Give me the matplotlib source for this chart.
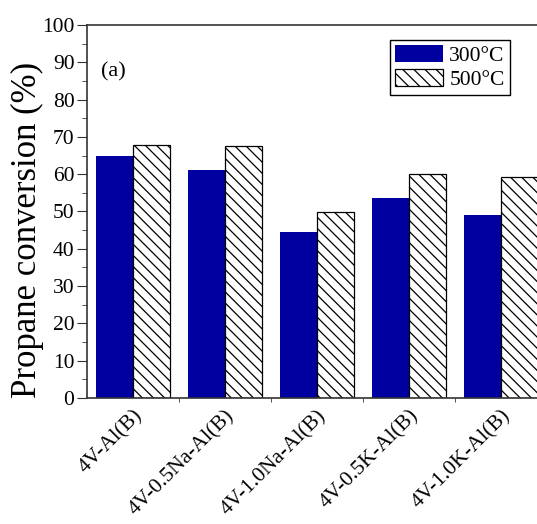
import matplotlib
matplotlib.use("Agg")
import matplotlib.pyplot as plt
import matplotlib.transforms as mtransforms
import numpy as np
from matplotlib.ticker import FixedLocator, MultipleLocator

plt.rcParams['font.family'] = ['Liberation Serif', 'DejaVu Serif']
plt.rcParams['hatch.linewidth'] = 0.9

categories = ["4V-Al(B)", "4V-0.5Na-Al(B)", "4V-1.0Na-Al(B)", "4V-0.5K-Al(B)", "4V-1.0K-Al(B)"]
conv_300 = [64.9, 61.1, 44.6, 53.6, 49.1]
conv_500 = [67.9, 67.5, 49.9, 60.0, 59.2]
series_labels = ["300°C", "500°C"]

fig = plt.figure(figsize=(5.37, 5.24), dpi=100)
ax = fig.add_axes([87/537, (524-398)/524, 460/537, 373/524])

x = np.arange(len(categories))
w = 0.4
ax.bar(x - w/2, conv_300, w, color='#0000A0', edgecolor='#0000A0', linewidth=0, label=series_labels[0])
ax.bar(x + w/2, conv_500, w, color='white', edgecolor='black', linewidth=0.9,
       hatch='\\\\\\', label=series_labels[1])

ax.set_xlim(-0.5, 4.5)
ax.set_ylim(0, 100)
ax.yaxis.set_major_locator(MultipleLocator(10))
ax.yaxis.set_minor_locator(MultipleLocator(5))
ax.xaxis.set_major_locator(FixedLocator(x))
ax.xaxis.set_minor_locator(FixedLocator(x[:-1] + 0.5))
ax.set_xticklabels(categories, rotation=45, ha='right', rotation_mode='anchor', fontsize=15.5)
shift = mtransforms.ScaledTranslation(9/100, 0, fig.dpi_scale_trans)
for lab in ax.get_xticklabels():
    lab.set_transform(lab.get_transform() + shift)
ax.tick_params(axis='x', which='major', length=0, pad=6)
ax.tick_params(axis='x', which='minor', length=3, direction='out', color='#333333')
ax.tick_params(axis='y', which='major', length=7, direction='out', labelsize=15.5, color='#333333', pad=2)
ax.tick_params(axis='y', which='minor', length=3.5, direction='out', color='#333333')
for s in ax.spines.values():
    s.set_color('#333333')
    s.set_linewidth(1.2)

ax.set_ylabel("Propane conversion (%)", fontsize=25)
ax.yaxis.set_label_coords((44-87)/460, (398-230)/373)

ax.text(0.03, 0.875, "(a)", transform=ax.transAxes, fontsize=16, va='center', ha='left')

leg = ax.legend(loc='upper left', bbox_to_anchor=((390-87)/460, (398-40)/373), fontsize=15.5,
                frameon=True, fancybox=False, edgecolor='black', framealpha=1,
                handlelength=2.2, handleheight=0.8, borderpad=0.25, labelspacing=0.15,
                handletextpad=0.3, borderaxespad=0)
leg.get_frame().set_linewidth(1.0)

fig.savefig("out.png", dpi=100)
